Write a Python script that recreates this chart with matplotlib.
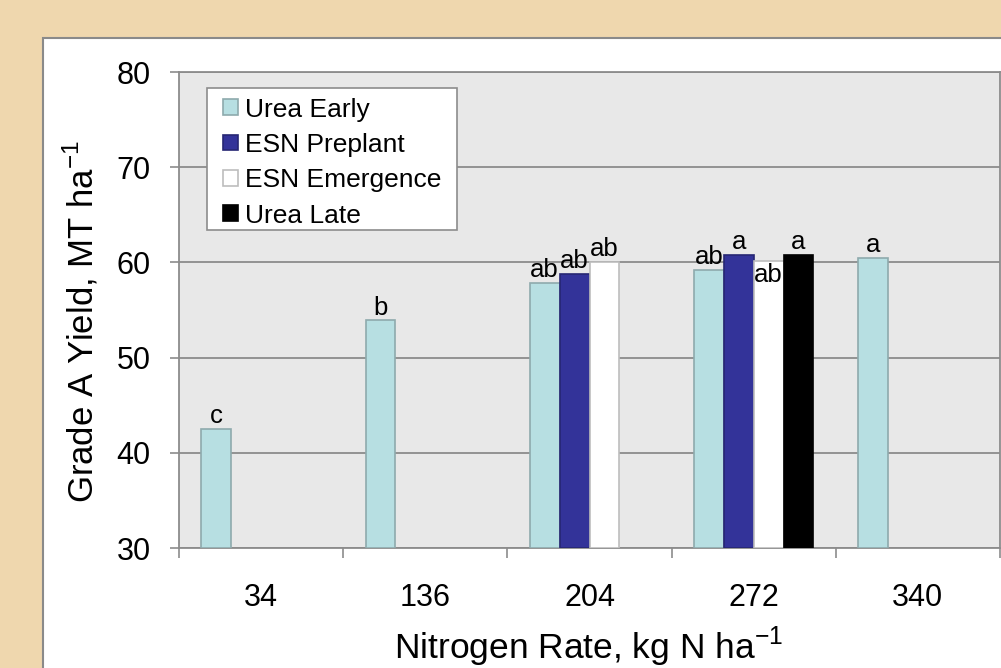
import numpy as np
import matplotlib
matplotlib.use('Agg')
import matplotlib.pyplot as plt
from matplotlib.patches import Rectangle

plt.rcParams['font.family'] = ['Liberation Sans', 'DejaVu Sans']
plt.rcParams['mathtext.fontset'] = 'custom'
plt.rcParams['mathtext.rm'] = 'Liberation Sans'

# dados
rates = ['34', '136', '204', '272', '340']
series = ['Urea Early', 'ESN Preplant', 'ESN Emergence', 'Urea Late']
urea_early = [42.5, 53.9, 57.8, 59.2, 60.5]
esn_preplant = [np.nan, np.nan, 58.8, 60.8, np.nan]
esn_emergence = [np.nan, np.nan, 60.0, 60.1, np.nan]
urea_late = [np.nan, np.nan, np.nan, 60.8, np.nan]
letters_early = ['c', 'b', 'ab', 'ab', 'a']
letters_preplant = ['', '', 'ab', 'a', '']
letters_emergence = ['', '', 'ab', 'ab', '']
letters_late = ['', '', '', 'a', '']

valores = [urea_early, esn_preplant, esn_emergence, urea_late]
letras = [letters_early, letters_preplant, letters_emergence, letters_late]
cores = ['#B7DFE2', '#333399', '#FFFFFF', '#000000']
bordas = ['#8EAAAD', '#262673', '#BDBDBD', '#000000']

fig = plt.figure(figsize=(10.01, 6.68), dpi=100)
fig.patch.set_facecolor('#EFD7AE')

# area branca do grafico
fig.patches.append(Rectangle((43 / 1001, -0.05), 1.0, 1 - 38 / 668 + 0.05,
                             transform=fig.transFigure, facecolor='white',
                             edgecolor='#8A8A8A', linewidth=1.5, zorder=-10))

ax = fig.add_axes([179 / 1001, 1 - 548 / 668, 821 / 1001, 476 / 668])
ax.set_facecolor('#E8E8E8')

x = np.arange(len(rates))
w = 1 / 5.5
for i in range(4):
    pos = x + (i - 1.5) * w
    ax.bar(pos, np.array(valores[i]) - 30, bottom=30, width=w,
           color=cores[i], edgecolor=bordas[i], linewidth=1.2,
           label=series[i], zorder=3)
    for j in range(len(rates)):
        if letras[i][j] == '':
            continue
        v = valores[i][j]
        if i == 2 and j == 3:
            # rotulo deslocado para dentro da barra no original
            ax.text(pos[j], v - 0.15, letras[i][j], ha='center', va='top',
                    fontsize=18.5, zorder=4)
        else:
            ax.text(pos[j], v + 0.1, letras[i][j], ha='center', va='bottom',
                    fontsize=18.5, zorder=4)

ax.set_xlim(-0.5, len(rates) - 0.5)
ax.set_ylim(30, 80)
ax.set_yticks([30, 40, 50, 60, 70, 80])
ax.yaxis.grid(True, color='#8C8C8C', linewidth=1.3)
ax.set_axisbelow(True)

ax.set_xticks(x)
ax.set_xticklabels(rates)
ax.set_xticks(np.arange(len(rates) + 1) - 0.5, minor=True)
ax.tick_params(axis='x', which='major', length=0, pad=25, labelsize=22)
ax.tick_params(axis='x', which='minor', length=7.5, width=1.2, color='#8C8C8C')
ax.tick_params(axis='y', length=6.5, width=1.2, color='#8C8C8C', pad=14,
               labelsize=22)

for s in ax.spines.values():
    s.set_color('#8C8C8C')
    s.set_linewidth(1.3)

# moldura da legenda
ax.add_patch(Rectangle((28 / 821, 318 / 476), 250 / 821, 142 / 476,
                       transform=ax.transAxes, facecolor='white',
                       edgecolor='#8C8C8C', linewidth=1.2, zorder=5))
leg = ax.legend(loc='upper left', bbox_to_anchor=(44 / 821, 450.5 / 476),
                borderaxespad=0, borderpad=0, fontsize=19, frameon=False,
                handlelength=0.55, handleheight=0.55, handletextpad=0.28,
                labelspacing=0.43)
leg.set_zorder(6)

fig.text(589 / 1001, 1 - 659 / 668, r'Nitrogen Rate, kg N ha$^{-1}$',
         ha='center', va='baseline', fontsize=25.5)
fig.text(81 / 1001, 1 - 321 / 668, r'Grade A Yield, MT ha$^{-1}$',
         ha='center', va='center', rotation=90, fontsize=25)

fig.savefig('out.png', dpi=100, facecolor=fig.get_facecolor())
